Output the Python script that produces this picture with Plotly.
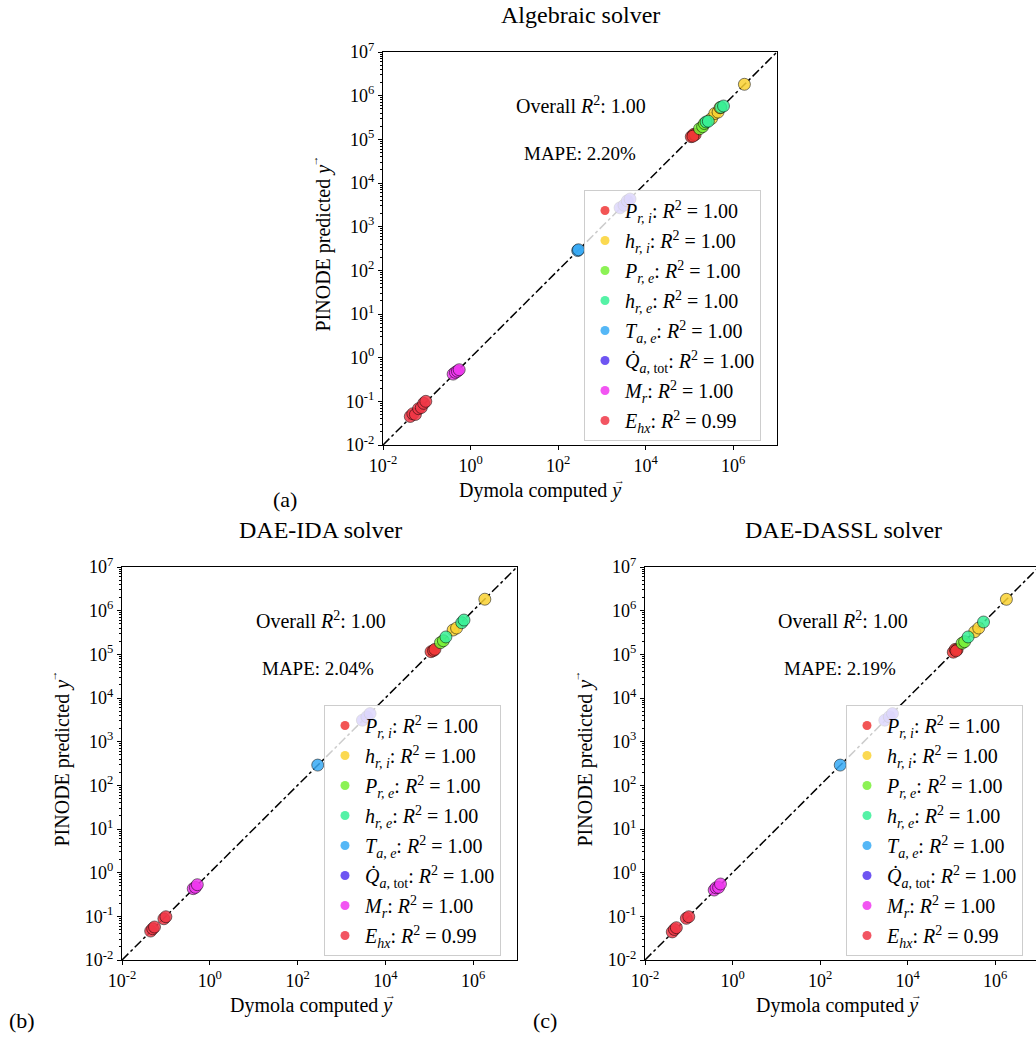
import plotly.graph_objects as go

# ---------------- data ----------------
SERIES_LABELS = [
    "<i>P</i><sub><i>r, i</i></sub>: <i>R</i><sup>2</sup> = 1.00",
    "<i>h</i><sub><i>r, i</i></sub>: <i>R</i><sup>2</sup> = 1.00",
    "<i>P</i><sub><i>r, e</i></sub>: <i>R</i><sup>2</sup> = 1.00",
    "<i>h</i><sub><i>r, e</i></sub>: <i>R</i><sup>2</sup> = 1.00",
    "<i>T</i><sub><i>a, e</i></sub>: <i>R</i><sup>2</sup> = 1.00",
    "<i>Q̇</i><sub><i>a</i>, tot</sub>: <i>R</i><sup>2</sup> = 1.00",
    "<i>M</i><sub><i>r</i></sub>: <i>R</i><sup>2</sup> = 1.00",
    "<i>E</i><sub><i>hx</i></sub>: <i>R</i><sup>2</sup> = 0.99",
]
SERIES_COLORS = [
    "rgb(240,55,55)", "rgb(250,210,50)", "rgb(120,240,55)", "rgb(55,240,150)",
    "rgb(55,170,245)", "rgb(85,55,240)", "rgb(240,55,240)", "rgb(240,55,70)",
]

# panel (a) Algebraic solver
A_DYMOLA = [
    [1.10e5, 1.25e5, 1.35e5, 1.20e5],
    [1.80e6, 3.2e5, 3.8e5, 4.5e5, 5.0e5],
    [1.7e5, 2.0e5, 2.2e5],
    [2.4e5, 2.7e5, 5.2e5, 6.0e5],
    [280, 292],
    [2.6e3, 3.2e3, 3.8e3, 4.4e3],
    [0.40, 0.45, 0.50, 0.55],
    [0.042, 0.048, 0.055, 0.065, 0.075, 0.085, 0.095],
]
A_PINODE = [
    [1.15e5, 1.30e5, 1.28e5, 1.18e5],
    [1.82e6, 3.0e5, 3.9e5, 4.2e5, 5.3e5],
    [1.75e5, 1.95e5, 2.3e5],
    [2.5e5, 2.6e5, 5.4e5, 5.8e5],
    [283, 296],
    [2.7e3, 3.1e3, 3.9e3, 4.3e3],
    [0.42, 0.46, 0.49, 0.53],
    [0.045, 0.052, 0.050, 0.068, 0.072, 0.090, 0.100],
]

# panel (b) DAE-IDA solver
B_DYMOLA = [
    [1.10e5, 1.25e5, 1.35e5],
    [3.5e5, 4.2e5, 1.85e6],
    [1.8e5, 2.1e5],
    [2.4e5, 5.5e5, 6.2e5],
    [288],
    [3.0e3, 3.8e3, 4.5e3],
    [0.42, 0.47, 0.52],
    [0.045, 0.050, 0.055, 0.090, 0.100],
]
B_PINODE = [
    [1.15e5, 1.22e5, 1.30e5],
    [3.6e5, 4.0e5, 1.83e6],
    [1.85e5, 2.05e5],
    [2.5e5, 5.3e5, 6.1e5],
    [291],
    [3.1e3, 3.7e3, 4.4e3],
    [0.43, 0.46, 0.53],
    [0.046, 0.052, 0.057, 0.088, 0.098],
]

# panel (c) DAE-DASSL solver
C_DYMOLA = [
    [1.10e5, 1.22e5, 1.35e5, 1.28e5],
    [3.4e5, 4.2e5, 1.80e6],
    [1.75e5, 2.0e5],
    [2.4e5, 5.4e5],
    [288],
    [3.0e3, 3.8e3, 4.5e3],
    [0.38, 0.42, 0.48, 0.53],
    [0.042, 0.047, 0.052, 0.088, 0.100],
]
C_PINODE = [
    [1.12e5, 1.30e5, 1.28e5, 1.20e5],
    [3.3e5, 4.0e5, 1.82e6],
    [1.80e5, 1.95e5],
    [2.5e5, 5.5e5],
    [291],
    [3.1e3, 3.7e3, 4.4e3],
    [0.40, 0.45, 0.46, 0.55],
    [0.044, 0.050, 0.055, 0.090, 0.098],
]

PANEL_TITLES = ["Algebraic solver", "DAE-IDA solver", "DAE-DASSL solver"]
PANEL_TAGS = ["(a)", "(b)", "(c)"]
OVERALL_R2 = ["1.00", "1.00", "1.00"]
MAPE = ["2.20%", "2.04%", "2.19%"]
DIAG = [1e-2, 1e7]
Y_TICKS = [10.0 ** k for k in range(-2, 8)]
Y_TICKTEXT = ["10<sup>%d</sup>" % k for k in range(-2, 8)]
X_TICKS = [10.0 ** k for k in range(-2, 8, 2)]
X_TICKTEXT = ["10<sup>%d</sup>" % k for k in range(-2, 8, 2)]

# ---------------- layout geometry ----------------
W, H = 1036, 1038
FONT = "Liberation Serif"
VEC_Y = "<i>y</i>"


def px_x(p):
    return p / W


def py_y(p):
    return 1 - p / H


panels = [
    dict(x0=383, x1=777, y0=52, y1=445, xr=[-2, 7], mirror_y=True,
         dym=A_DYMOLA, pin=A_PINODE, title_c=580, xlab_c=540, ylab_x=323,
         stat_c=581, mape_c=580, leg_x=584),
    dict(x0=122, x1=517, y0=567, y1=960, xr=[-2, 7], mirror_y=True,
         dym=B_DYMOLA, pin=B_PINODE, title_c=320, xlab_c=311, ylab_x=62,
         stat_c=321, mape_c=318, leg_x=324),
    dict(x0=645, x1=1036, y0=567, y1=960, xr=[-2, -2 + 9 * 391 / 394], mirror_y=False,
         dym=C_DYMOLA, pin=C_PINODE, title_c=843, xlab_c=837, ylab_x=585,
         stat_c=843, mape_c=840, leg_x=846),
]

minor_vals = [m * 10.0 ** k for k in range(-2, 7) for m in range(2, 10)]

fig = go.Figure()
layout = dict(
    width=W, height=H,
    margin=dict(l=0, r=0, t=0, b=0, pad=0, autoexpand=False),
    paper_bgcolor="white", plot_bgcolor="white",
    font=dict(family=FONT, size=18, color="black"),
    showlegend=True,
)
annotations = []

for i, p in enumerate(panels):
    sfx = "" if i == 0 else str(i + 1)
    xa, ya = "x" + sfx, "y" + sfx
    leg = "legend" if i == 0 else "legend%d" % (i + 1)
    layout["xaxis" + sfx] = dict(
        type="log", range=p["xr"], domain=[px_x(p["x0"]), px_x(p["x1"])],
        anchor=ya, showgrid=False, zeroline=False, automargin=False,
        showline=True, linecolor="black", linewidth=1.2, mirror=True,
        ticks="outside", ticklen=4, tickcolor="black",
        tickvals=X_TICKS, ticktext=X_TICKTEXT, tickfont=dict(size=18),
    )
    layout["yaxis" + sfx] = dict(
        type="log", range=[-2, 7], domain=[py_y(p["y1"]), py_y(p["y0"])],
        anchor=xa, showgrid=False, zeroline=False, automargin=False,
        showline=True, linecolor="black", linewidth=1.2, mirror=p["mirror_y"],
        ticks="outside", ticklen=4, tickcolor="black",
        tickvals=Y_TICKS, ticktext=Y_TICKTEXT, tickfont=dict(size=18),
        minor=dict(ticks="outside", ticklen=2, tickcolor="black", tickvals=minor_vals, showgrid=False),
    )
    # diagonal
    fig.add_trace(go.Scatter(x=DIAG, y=DIAG, mode="lines", xaxis=xa, yaxis=ya,
                             line=dict(color="black", width=1.5, dash="dashdot"),
                             showlegend=False, hoverinfo="skip"))
    for k in range(len(SERIES_LABELS)):
        fig.add_trace(go.Scatter(
            x=p["dym"][k], y=p["pin"][k], mode="markers", xaxis=xa, yaxis=ya,
            marker=dict(size=12, color=SERIES_COLORS[k], opacity=0.85,
                        line=dict(color="rgba(0,0,0,0.6)", width=1)),
            showlegend=False,
        ))
    for k in range(len(SERIES_LABELS)):
        fig.add_trace(go.Scatter(
            x=[None], y=[None], mode="markers", xaxis=xa, yaxis=ya,
            marker=dict(size=9, color=SERIES_COLORS[k], opacity=0.85),
            name=SERIES_LABELS[k], legend=leg, legendgroup="%d_%d" % (i, k),
        ))
    layout[leg] = dict(
        x=px_x(p["leg_x"]), y=py_y(p["y0"] + 138), xanchor="left", yanchor="top",
        bgcolor="rgba(255,255,255,0.8)", bordercolor="rgb(205,205,205)", borderwidth=1,
        font=dict(family=FONT, size=20), traceorder="grouped", tracegroupgap=1,
        itemwidth=30,
    )
    # title
    annotations.append(dict(text=PANEL_TITLES[i], x=px_x(p["title_c"]), y=py_y(p["y0"] - 37),
                            xref="paper", yref="paper", showarrow=False,
                            font=dict(size=24), xanchor="center", yanchor="middle"))
    # axis labels
    annotations.append(dict(text="Dymola computed " + VEC_Y, x=px_x(p["xlab_c"]), y=py_y(p["y1"] + 45),
                            xref="paper", yref="paper", showarrow=False,
                            font=dict(size=20), xanchor="center", yanchor="middle"))
    annotations.append(dict(text="PINODE predicted " + VEC_Y, x=px_x(p["ylab_x"]),
                            y=py_y((p["y0"] + p["y1"]) / 2),
                            xref="paper", yref="paper", showarrow=False, textangle=-90,
                            font=dict(size=20), xanchor="center", yanchor="middle"))
    # vector arrows over the y in axis labels
    annotations.append(dict(text="→", x=px_x(p["xlab_c"] + 79), y=py_y(p["y1"] + 35),
                            xref="paper", yref="paper", showarrow=False,
                            font=dict(size=11), xanchor="center", yanchor="middle"))
    annotations.append(dict(text="→", x=px_x(p["ylab_x"] - 10), y=py_y((p["y0"] + p["y1"]) / 2 - 87),
                            xref="paper", yref="paper", showarrow=False, textangle=-90,
                            font=dict(size=11), xanchor="center", yanchor="middle"))
    # stats
    annotations.append(dict(text="Overall <i>R</i><sup>2</sup>: " + OVERALL_R2[i],
                            x=px_x(p["stat_c"]), y=py_y(p["y0"] + 53),
                            xref="paper", yref="paper", showarrow=False,
                            font=dict(size=20), xanchor="center", yanchor="middle"))
    annotations.append(dict(text="MAPE: " + MAPE[i],
                            x=px_x(p["mape_c"]), y=py_y(p["y0"] + 101),
                            xref="paper", yref="paper", showarrow=False,
                            font=dict(size=19), xanchor="center", yanchor="middle"))

tag_pos = [(285, 500), (22, 1020), (545, 1020)]
for i, (tx, ty) in enumerate(tag_pos):
    annotations.append(dict(text=PANEL_TAGS[i], x=px_x(tx), y=py_y(ty), xref="paper", yref="paper",
                            showarrow=False, font=dict(size=22), xanchor="center", yanchor="middle"))

layout["annotations"] = annotations
fig.update_layout(**layout)
fig.write_html("out.html")
